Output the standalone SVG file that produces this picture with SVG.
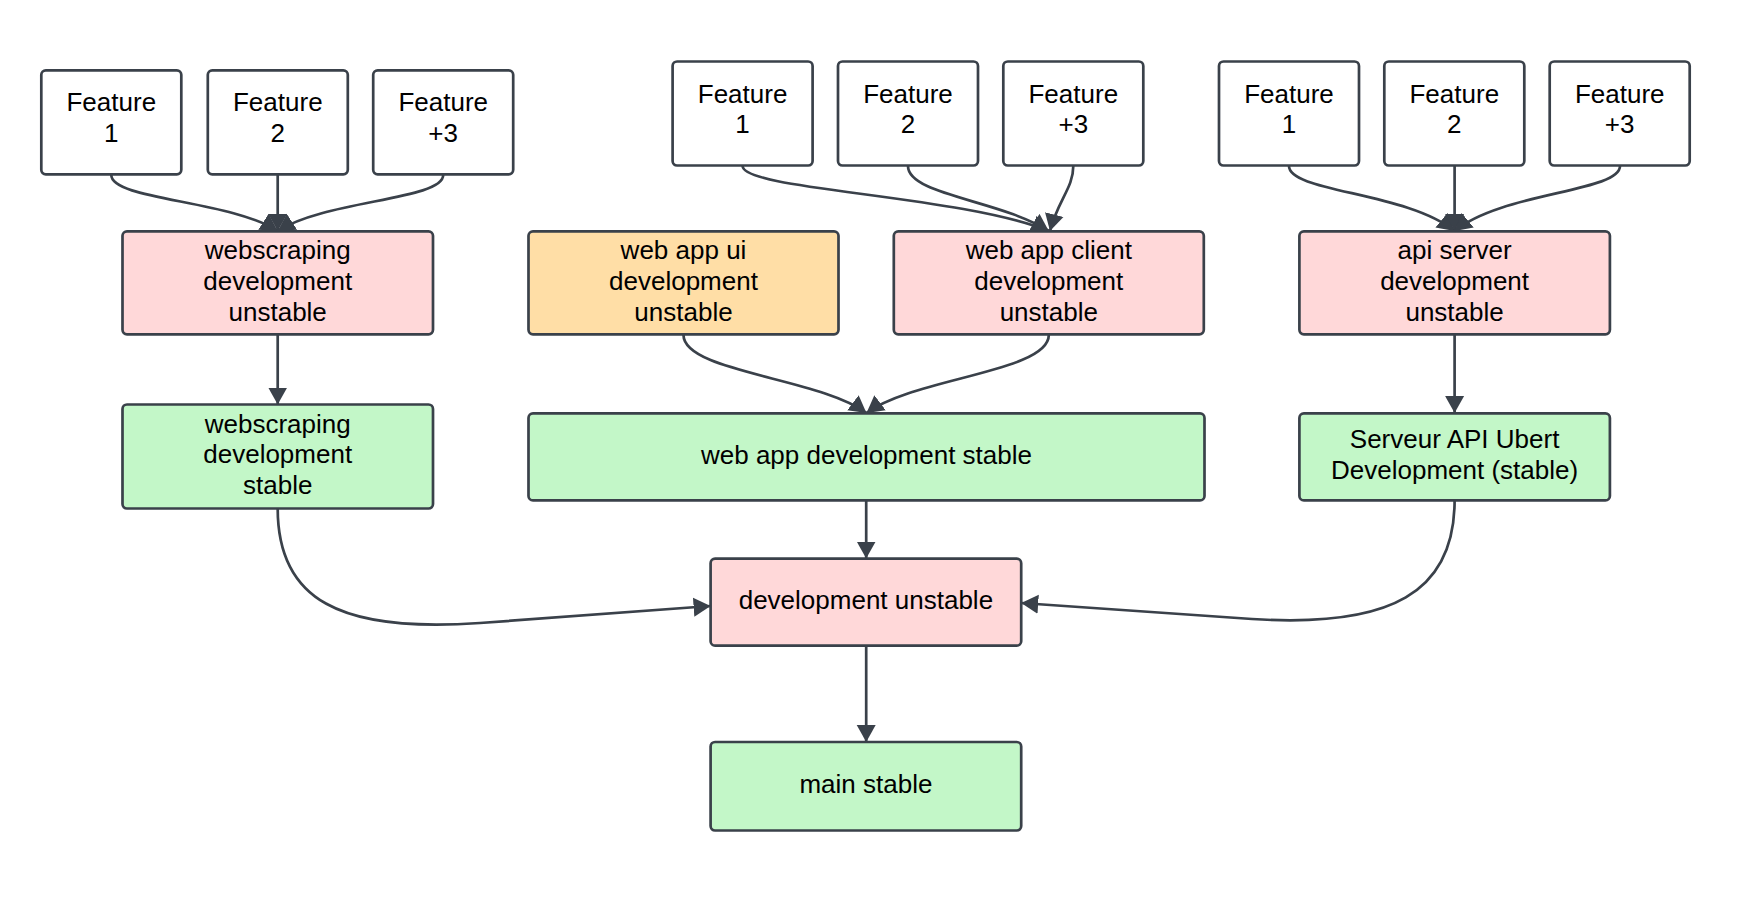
<svg xmlns="http://www.w3.org/2000/svg" width="1752" height="900" viewBox="0 0 1752 900">
<style>
.box{stroke:#3a414a;stroke-width:2.7}
.white{fill:#ffffff}
.pink{fill:#ffd8d9}
.orange{fill:#ffdea6}
.green{fill:#c3f7c8}
.t{font-family:"Liberation Sans",Arial,sans-serif;font-size:26px;fill:#000000;text-anchor:middle}
.c{fill:none;stroke:#3a414a;stroke-width:2.7;marker-end:url(#arr)}
</style>
<defs>
<marker id="arr" markerUnits="userSpaceOnUse" markerWidth="19" markerHeight="20" refX="17" refY="10" orient="auto">
<path d="M0,0.5 L17,10 L0,19.5 Z" fill="#3a414a"/>
</marker>
</defs>
<rect width="1752" height="900" fill="#ffffff"/>
<g id="connectors">
<path class="c" d="M111.3,175 C111.3,200 230,200 277.7,231"/>
<path class="c" d="M277.7,175 L277.7,231"/>
<path class="c" d="M443.2,175 C443.2,200 325.4,200 277.7,231"/>
<path class="c" d="M742.6,166 C742.6,190 960,195 1048.8,231"/>
<path class="c" d="M908,166 C908,195 1000,200 1048.8,231"/>
<path class="c" d="M1073.3,166 C1073.3,188 1058,200 1050,231"/>
<path class="c" d="M1289,166 C1289,192 1407,192 1454.6,231"/>
<path class="c" d="M1454.6,166 L1454.6,231"/>
<path class="c" d="M1620,166 C1620,192 1502,192 1454.6,231"/>
<path class="c" d="M277.7,334 L277.7,404.5"/>
<path class="c" d="M683.5,335 C683.5,372 820,378 866.5,413"/>
<path class="c" d="M1048.8,335 C1048.8,372 913,378 866.5,413"/>
<path class="c" d="M1454.6,334 L1454.6,413"/>
<path class="c" d="M866.2,500.5 L866.2,558.5"/>
<path class="c" d="M277.7,508.4 C277.7,600 340,633 480,623 L710.6,606"/>
<path class="c" d="M1454.6,500.5 C1454.6,592 1392,628 1252,619 L1021.2,603"/>
<path class="c" d="M866.2,645.8 L866.2,742"/>
</g>
<g id="g1-feature1"><rect class="box white" x="41.3" y="70.3" width="140" height="104" rx="4.5"/><text class="t" x="111.3" y="111">Feature</text><text class="t" x="111.3" y="141.7">1</text></g>
<g id="g1-feature2"><rect class="box white" x="207.8" y="70.3" width="140" height="104" rx="4.5"/><text class="t" x="277.8" y="111">Feature</text><text class="t" x="277.8" y="141.7">2</text></g>
<g id="g1-feature3"><rect class="box white" x="373.2" y="70.3" width="140" height="104" rx="4.5"/><text class="t" x="443.2" y="111">Feature</text><text class="t" x="443.2" y="141.7">+3</text></g>
<g id="g2-feature1"><rect class="box white" x="672.6" y="61.5" width="140" height="104" rx="4.5"/><text class="t" x="742.6" y="102.5">Feature</text><text class="t" x="742.6" y="133.2">1</text></g>
<g id="g2-feature2"><rect class="box white" x="838" y="61.5" width="140" height="104" rx="4.5"/><text class="t" x="908" y="102.5">Feature</text><text class="t" x="908" y="133.2">2</text></g>
<g id="g2-feature3"><rect class="box white" x="1003.3" y="61.5" width="140" height="104" rx="4.5"/><text class="t" x="1073.3" y="102.5">Feature</text><text class="t" x="1073.3" y="133.2">+3</text></g>
<g id="g3-feature1"><rect class="box white" x="1219" y="61.5" width="140" height="104" rx="4.5"/><text class="t" x="1289" y="102.5">Feature</text><text class="t" x="1289" y="133.2">1</text></g>
<g id="g3-feature2"><rect class="box white" x="1384.3" y="61.5" width="140" height="104" rx="4.5"/><text class="t" x="1454.3" y="102.5">Feature</text><text class="t" x="1454.3" y="133.2">2</text></g>
<g id="g3-feature3"><rect class="box white" x="1549.7" y="61.5" width="140" height="104" rx="4.5"/><text class="t" x="1619.7" y="102.5">Feature</text><text class="t" x="1619.7" y="133.2">+3</text></g>
<g id="webscraping-unstable"><rect class="box pink" x="122.5" y="231.3" width="310.5" height="103" rx="4.5"/><text class="t" x="277.7" y="259">webscraping</text><text class="t" x="277.7" y="290">development</text><text class="t" x="277.7" y="320.7">unstable</text></g>
<g id="webapp-ui-unstable"><rect class="box orange" x="528.5" y="231.3" width="310" height="103" rx="4.5"/><text class="t" x="683.5" y="259">web app ui</text><text class="t" x="683.5" y="290">development</text><text class="t" x="683.5" y="320.7">unstable</text></g>
<g id="webapp-client-unstable"><rect class="box pink" x="893.8" y="231.3" width="310" height="103" rx="4.5"/><text class="t" x="1048.8" y="259">web app client</text><text class="t" x="1048.8" y="290">development</text><text class="t" x="1048.8" y="320.7">unstable</text></g>
<g id="api-server-unstable"><rect class="box pink" x="1299.4" y="231.3" width="310.5" height="103" rx="4.5"/><text class="t" x="1454.6" y="259">api server</text><text class="t" x="1454.6" y="290">development</text><text class="t" x="1454.6" y="320.7">unstable</text></g>
<g id="webscraping-stable"><rect class="box green" x="122.5" y="404.5" width="310.5" height="104" rx="4.5"/><text class="t" x="277.7" y="432.5">webscraping</text><text class="t" x="277.7" y="463.3">development</text><text class="t" x="277.7" y="494">stable</text></g>
<g id="webapp-stable"><rect class="box green" x="528.5" y="413.4" width="676" height="87" rx="4.5"/><text class="t" x="866.5" y="464">web app development stable</text></g>
<g id="serveur-api-stable"><rect class="box green" x="1299.4" y="413.4" width="310.5" height="87" rx="4.5"/><text class="t" x="1454.6" y="448.3">Serveur API Ubert</text><text class="t" x="1454.6" y="479.3">Development (stable)</text></g>
<g id="development-unstable"><rect class="box pink" x="710.6" y="558.7" width="310.6" height="87" rx="4.5"/><text class="t" x="865.9" y="609">development unstable</text></g>
<g id="main-stable"><rect class="box green" x="710.6" y="742" width="310.6" height="88.5" rx="4.5"/><text class="t" x="865.9" y="792.7">main stable</text></g>
</svg>
